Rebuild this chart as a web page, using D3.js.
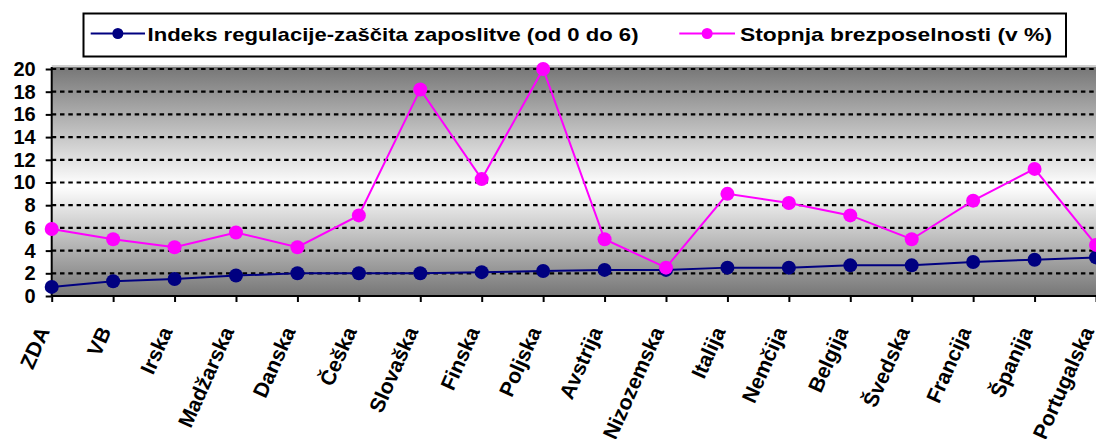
<!DOCTYPE html>
<html>
<head>
<meta charset="utf-8">
<script src="https://cdn.jsdelivr.net/npm/d3@7"></script>
<style>
  html, body { margin: 0; padding: 0; background: #fff; }
  svg { display: block; font-family: "Liberation Sans", Arial, sans-serif; font-weight: bold; }
</style>
</head>
<body>
<svg id="chart" width="1096" height="439"></svg>
<script>
// Countries along the horizontal axis
const categories = ["ZDA", "VB", "Irska", "Madžarska", "Danska", "Češka", "Slovaška", "Finska",
  "Poljska", "Avstrija", "Nizozemska", "Italija", "Nemčija", "Belgija", "Švedska",
  "Francija", "Španija", "Portugalska"];

// Employment protection index (0 to 6)
const eplIndex = [0.8, 1.3, 1.5, 1.8, 2.0, 2.0, 2.0, 2.1, 2.2, 2.3, 2.3, 2.5, 2.5, 2.7, 2.7, 3.0, 3.2, 3.4];

// Unemployment rate (%)
const unemployment = [5.9, 5.0, 4.3, 5.6, 4.3, 7.1, 18.2, 10.3, 20.0, 5.0, 2.5, 9.0, 8.2, 7.1, 5.0, 8.4, 11.2, 4.5];

const yTicks = [0, 2, 4, 6, 8, 10, 12, 14, 16, 18, 20];

const seriesNames = ["Indeks regulacije-zaščita zaposlitve (od 0 do 6)", "Stopnja brezposelnosti (v %)"];
const seriesColors = ["#000080", "#ff00ff"];

const svg = d3.select("#chart");

const plot = { left: 51.7, right: 1100, top: 67, bottom: 296 };

const x = d3.scalePoint().domain(categories).range([51.7, 1096]);
const y = d3.scaleLinear().domain([0, 20]).range([296, 69]);

// Plot background: grey at the edges fading to white in the middle
const defs = svg.append("defs");
const grad = defs.append("linearGradient")
  .attr("id", "plotBg").attr("x1", 0).attr("y1", 0).attr("x2", 0).attr("y2", 1);
grad.append("stop").attr("offset", "0%").attr("stop-color", "#767676");
grad.append("stop").attr("offset", "52%").attr("stop-color", "#ffffff");
grad.append("stop").attr("offset", "100%").attr("stop-color", "#767676");

svg.append("rect")
  .attr("x", plot.left).attr("y", plot.top - 2)
  .attr("width", plot.right - plot.left).attr("height", plot.bottom - plot.top + 2)
  .attr("fill", "#d0d0d0");
svg.append("rect")
  .attr("x", plot.left).attr("y", plot.top)
  .attr("width", plot.right - plot.left).attr("height", plot.bottom - plot.top)
  .attr("fill", "url(#plotBg)");

// Dashed horizontal gridlines
svg.append("g").selectAll("line")
  .data(yTicks.filter(d => d > 0))
  .join("line")
  .attr("x1", plot.left).attr("x2", plot.right)
  .attr("y1", d => y(d)).attr("y2", d => y(d))
  .attr("stroke", "#000").attr("stroke-width", 2.2)
  .attr("stroke-dasharray", "4.5,3.8");

// Y axis
const yAxis = svg.append("g")
  .attr("transform", `translate(${plot.left},0)`)
  .call(d3.axisLeft(y).tickValues(yTicks).tickSize(6).tickSizeOuter(0).tickPadding(10));
yAxis.select(".domain").attr("stroke", "#000").attr("stroke-width", 2)
  .attr("d", `M0,${plot.top}V${plot.bottom}`);
yAxis.selectAll(".tick line").attr("stroke", "#000").attr("stroke-width", 2);
yAxis.selectAll(".tick text")
  .attr("font-size", 20).attr("font-weight", "bold").attr("fill", "#000")
  .attr("font-family", "Liberation Sans, Arial, sans-serif");

// X axis
const xAxis = svg.append("g")
  .attr("transform", `translate(0,${plot.bottom})`)
  .call(d3.axisBottom(x).tickSize(6).tickSizeOuter(0));
xAxis.select(".domain").attr("stroke", "#000").attr("stroke-width", 2)
  .attr("d", `M${plot.left},0H${plot.right}`);
xAxis.selectAll(".tick line").attr("stroke", "#000").attr("stroke-width", 2);
xAxis.selectAll(".tick text")
  .attr("font-size", 21).attr("font-weight", "bold").attr("fill", "#000")
  .attr("font-family", "Liberation Sans, Arial, sans-serif")
  .attr("text-anchor", "end")
  .attr("y", 0).attr("dy", 0)
  .attr("transform", "translate(-2,35) rotate(-66)");

// Series lines and markers
const seriesData = [eplIndex, unemployment];
const line = d3.line().x((d, i) => x(categories[i])).y(d => y(d));

seriesData.forEach((vals, s) => {
  const g = svg.append("g");
  g.append("path")
    .attr("d", line(vals))
    .attr("fill", "none")
    .attr("stroke", seriesColors[s])
    .attr("stroke-width", 2);
  g.selectAll("circle")
    .data(vals)
    .join("circle")
    .attr("cx", (d, i) => x(categories[i]))
    .attr("cy", d => y(d))
    .attr("r", 7)
    .attr("fill", seriesColors[s]);
});

// Legend
const legend = svg.append("g");
legend.append("rect")
  .attr("x", 83.5).attr("y", 13.5).attr("width", 982.5).attr("height", 43)
  .attr("fill", "#fff").attr("stroke", "#000").attr("stroke-width", 2);

const legendItems = [
  { lx1: 90.7, lx2: 145, tx: 147.5, tw: 491 },
  { lx1: 679.3, lx2: 735, tx: 740, tw: 312 }
];
legendItems.forEach((it, s) => {
  legend.append("line")
    .attr("x1", it.lx1).attr("x2", it.lx2).attr("y1", 33.5).attr("y2", 33.5)
    .attr("stroke", seriesColors[s]).attr("stroke-width", 2);
  legend.append("circle")
    .attr("cx", (it.lx1 + it.lx2) / 2).attr("cy", 33.5).attr("r", 5.5)
    .attr("fill", seriesColors[s]);
  legend.append("text")
    .attr("x", it.tx).attr("y", 40.5)
    .attr("font-size", 19).attr("font-weight", "bold")
    .attr("textLength", it.tw).attr("lengthAdjust", "spacingAndGlyphs")
    .text(seriesNames[s]);
});
</script>
</body>
</html>
